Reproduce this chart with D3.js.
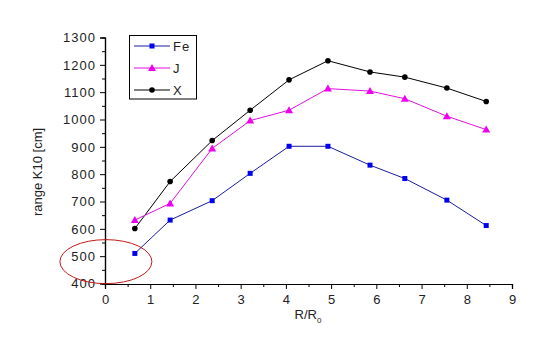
<!DOCTYPE html>
<html><head><meta charset="utf-8">
<script src="https://cdn.jsdelivr.net/npm/d3@7"></script>
<style>body{margin:0;background:#fff}svg{display:block}text{font-family:"Liberation Sans",Arial,sans-serif}</style>
</head><body><svg id="c" width="547" height="362"></svg>
<script>
const xVals = [0.66, 1.44, 2.37, 3.21, 4.07, 4.93, 5.86, 6.63, 7.56, 8.43];
const feVals = [510, 632, 703, 803, 902, 902, 833, 784, 705, 612];
const jVals = [632, 693, 894, 996, 1034, 1113, 1104, 1076, 1012, 963];
const xSeriesVals = [601, 773, 923, 1034, 1145, 1215, 1174, 1155, 1115, 1066];
const xTicks = [0,1,2,3,4,5,6,7,8,9];
const yTicks = [400,500,600,700,800,900,1000,1100,1200,1300];
const seriesNames = ["Fe","J","X"];

const svg = d3.select("#c");
const x = d3.scaleLinear().domain([0,9]).range([105,512]);
const y = d3.scaleLinear().domain([400,1300]).range([283.5,37.5]);

// axes
const xAxis = d3.axisBottom(x).tickValues(xTicks).tickSize(5).tickFormat(d3.format("d"));
const xMinor = d3.axisBottom(x).tickValues(d3.range(0.5,9,1)).tickSize(3).tickFormat("");
const yAxis = d3.axisLeft(y).tickValues(yTicks).tickSize(5).tickFormat(d3.format("d"));
const yMinor = d3.axisLeft(y).tickValues(d3.range(450,1300,100)).tickSize(3).tickFormat("");

function style(g){
  g.select(".domain").attr("stroke","#000").attr("stroke-width",1.2);
  g.selectAll(".tick line").attr("stroke","#000");
  g.selectAll("text").attr("fill","#222").attr("font-size",13).attr("letter-spacing",1);
}
svg.append("g").attr("transform","translate(0,284)").call(xMinor).call(style);
const gx = svg.append("g").attr("transform","translate(0,284)").call(xAxis).call(style);
gx.selectAll("text").attr("dy","0.95em").attr("dx","0.5");
svg.append("g").attr("transform","translate(105,0)").call(yMinor).call(style);
const gy = svg.append("g").attr("transform","translate(105,0)").call(yAxis).call(style);
gy.selectAll("text").attr("x",-9);

// axis titles
const xt = svg.append("text").attr("x",308).attr("y",319).attr("text-anchor","middle")
  .attr("font-size",13).attr("fill","#222");
xt.append("tspan").text("R/R");
xt.append("tspan").attr("font-size",8).attr("dy",4).text("0");
svg.append("text").attr("transform","translate(42,172) rotate(-90)").attr("text-anchor","middle")
  .attr("font-size",13).attr("fill","#222").text("range K10 [cm]");

// series
const series = [
  {name:seriesNames[0], vals:feVals, line:"#1a1aa0", fill:"#0000ee", shape:"square"},
  {name:seriesNames[1], vals:jVals, line:"#e010e0", fill:"#ee00ee", shape:"triangle"},
  {name:seriesNames[2], vals:xSeriesVals, line:"#000", fill:"#000", shape:"circle"}
];
function marker(g, shape, fill, cx, cy){
  if(shape==="square") g.append("rect").attr("x",cx-2.5).attr("y",cy-2.5).attr("width",5).attr("height",5).attr("fill",fill);
  else if(shape==="triangle") g.append("path").attr("d",`M${cx},${cy-4}L${cx+4},${cy+3}L${cx-4},${cy+3}Z`).attr("fill",fill);
  else g.append("circle").attr("cx",cx).attr("cy",cy).attr("r",2.8).attr("fill",fill);
}
const line = d3.line();
// draw X, J, Fe order
[series[2],series[1],series[0]].forEach(s=>{
  const pts = xVals.map((v,i)=>[x(v),y(s.vals[i])]);
  svg.append("path").attr("d",line(pts)).attr("fill","none").attr("stroke",s.line).attr("stroke-width",1);
  const g = svg.append("g");
  pts.forEach(p=>marker(g,s.shape,s.fill,p[0],p[1]));
});

// legend
const lg = svg.append("g");
lg.append("rect").attr("x",129.5).attr("y",35.5).attr("width",67).attr("height",63.5)
  .attr("fill","#fff").attr("stroke","#000").attr("stroke-width",1);
series.forEach((s,i)=>{
  const ly = 46 + i*22;
  lg.append("line").attr("x1",134).attr("x2",170).attr("y1",ly).attr("y2",ly).attr("stroke",s.line);
  marker(lg,s.shape,s.fill,152,ly);
  lg.append("text").attr("x",173).attr("y",ly+5).attr("font-size",13).attr("letter-spacing",1)
    .attr("fill","#222").text(s.name);
});

// red ellipse annotation
svg.append("ellipse").attr("cx",x(0.02)).attr("cy",y(480)).attr("rx",46).attr("ry",22)
  .attr("fill","none").attr("stroke","#c01818").attr("stroke-width",1);
</script></body></html>
